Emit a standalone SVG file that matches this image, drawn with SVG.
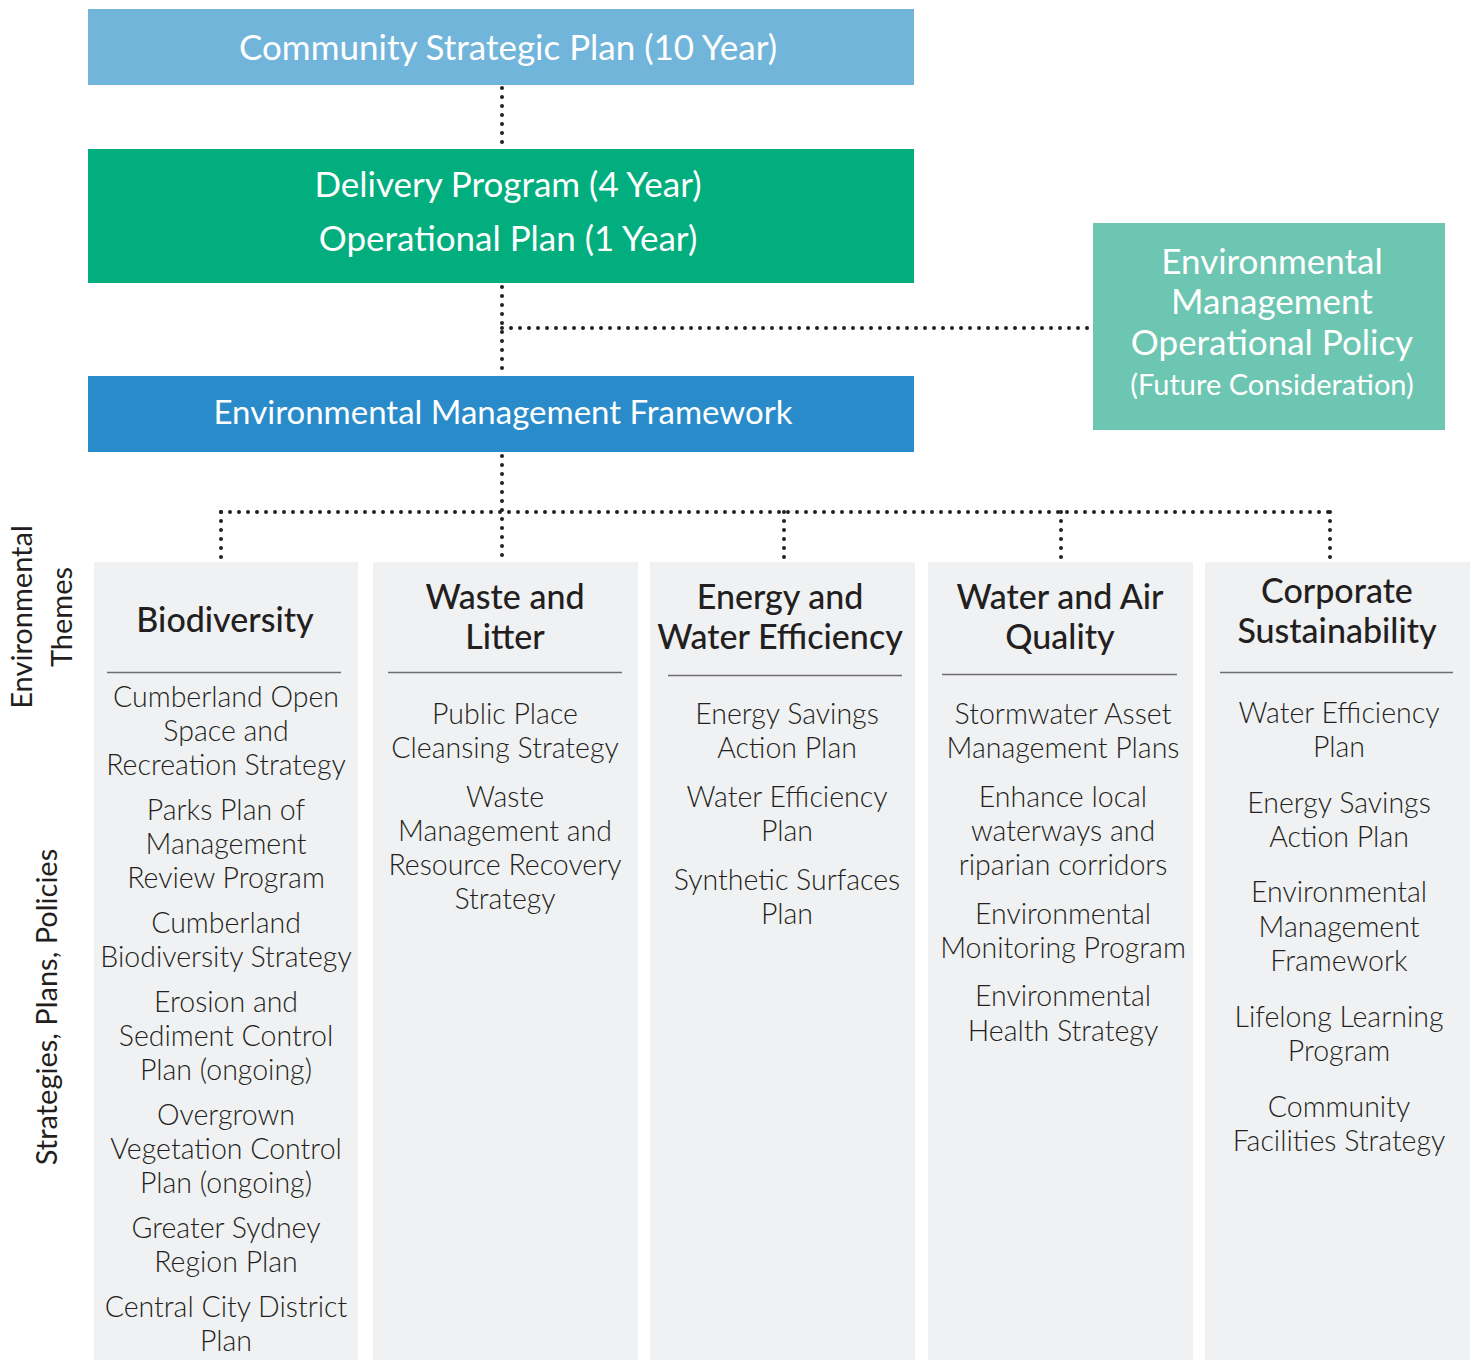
<svg xmlns="http://www.w3.org/2000/svg" width="1477" height="1360" viewBox="0 0 1477 1360">
<style>
text{font-family:"Lato","Noto Sans","Liberation Sans",sans-serif;}
.bt{fill:#ffffff;font-size:35px;text-anchor:middle;}
.hd{fill:#231f20;font-size:34px;font-weight:500;text-anchor:middle;}
.it{fill:#231f20;font-size:28.5px;font-weight:300;text-anchor:middle;}
.side{fill:#231f20;font-size:29px;text-anchor:middle;}
.col{fill:#f0f1f3;}
.div{stroke:#6d6e71;stroke-width:1.5;}
.dot{fill:none;stroke:#231f20;stroke-width:4;stroke-linecap:round;stroke-dasharray:0 9;}
</style>
<rect width="1477" height="1360" fill="#ffffff"/>
<g id="connectors">
<path class="dot" d="M502 88 V149"/>
<path class="dot" d="M502 287 V376"/>
<path class="dot" d="M502 328 H1091"/>
<path class="dot" d="M502 456 V560"/>
<path class="dot" d="M221 512 H1330"/>
<path class="dot" d="M221 512 V560"/>
<path class="dot" d="M784 512 V560"/>
<path class="dot" d="M1061 512 V560"/>
<path class="dot" d="M1330 512 V560"/>
</g>
<g id="csp">
<rect x="88" y="9" width="826" height="76" fill="#72b5db"/>
<text class="bt" x="508" y="60">Community Strategic Plan (10 Year)</text>
</g>
<g id="dp">
<rect x="88" y="149" width="826" height="134" fill="#02ae7e"/>
<text class="bt" x="508" y="197">Delivery Program (4 Year)</text>
<text class="bt" x="508" y="251">Operational Plan (1 Year)</text>
</g>
<g id="emf">
<rect x="88" y="376" width="826" height="76" fill="#2a8bca"/>
<text class="bt" x="503" y="424" style="font-size:33px">Environmental Management Framework</text>
</g>
<g id="emop">
<rect x="1093" y="223" width="352" height="207" fill="#6dc6b2"/>
<text class="bt" x="1272" y="274">Environmental</text>
<text class="bt" x="1272" y="314">Management</text>
<text class="bt" x="1272" y="355">Operational Policy</text>
<text class="bt" x="1272" y="395" style="font-size:29px">(Future Consideration)</text>
</g>
<g id="side-labels">
<text class="side" transform="translate(32 617) rotate(-90)">Environmental</text>
<text class="side" transform="translate(72 617) rotate(-90)">Themes</text>
<text class="side" transform="translate(57 1007) rotate(-90)">Strategies, Plans, Policies</text>
</g>
<g id="biodiversity">
<rect class="col" x="94" y="562" width="264" height="798"/>
<text class="hd" x="225" y="632">Biodiversity</text>
<line class="div" x1="107" y1="672.5" x2="341" y2="672.5"/>
<text class="it" x="226" y="707">Cumberland Open</text>
<text class="it" x="226" y="741">Space and</text>
<text class="it" x="226" y="775">Recreation Strategy</text>
<text class="it" x="226" y="820">Parks Plan of</text>
<text class="it" x="226" y="854">Management</text>
<text class="it" x="226" y="888">Review Program</text>
<text class="it" x="226" y="933">Cumberland</text>
<text class="it" x="226" y="967">Biodiversity Strategy</text>
<text class="it" x="226" y="1012">Erosion and</text>
<text class="it" x="226" y="1046">Sediment Control</text>
<text class="it" x="226" y="1080">Plan (ongoing)</text>
<text class="it" x="226" y="1125">Overgrown</text>
<text class="it" x="226" y="1159">Vegetation Control</text>
<text class="it" x="226" y="1193">Plan (ongoing)</text>
<text class="it" x="226" y="1238">Greater Sydney</text>
<text class="it" x="226" y="1272">Region Plan</text>
<text class="it" x="226" y="1317">Central City District</text>
<text class="it" x="226" y="1351">Plan</text>
</g>
<g id="waste">
<rect class="col" x="373" y="562" width="265" height="798"/>
<text class="hd" x="505" y="609">Waste and</text>
<text class="hd" x="505" y="649">Litter</text>
<line class="div" x1="388" y1="672.5" x2="622" y2="672.5"/>
<text class="it" x="505" y="724">Public Place</text>
<text class="it" x="505" y="758">Cleansing Strategy</text>
<text class="it" x="505" y="807">Waste</text>
<text class="it" x="505" y="841">Management and</text>
<text class="it" x="505" y="875">Resource Recovery</text>
<text class="it" x="505" y="909">Strategy</text>
</g>
<g id="energy">
<rect class="col" x="650" y="562" width="265" height="798"/>
<text class="hd" x="780" y="609">Energy and</text>
<text class="hd" x="780" y="649">Water Efficiency</text>
<line class="div" x1="668" y1="675.5" x2="902" y2="675.5"/>
<text class="it" x="787" y="724">Energy Savings</text>
<text class="it" x="787" y="758">Action Plan</text>
<text class="it" x="787" y="807">Water Efficiency</text>
<text class="it" x="787" y="841">Plan</text>
<text class="it" x="787" y="890">Synthetic Surfaces</text>
<text class="it" x="787" y="924">Plan</text>
</g>
<g id="water-air">
<rect class="col" x="928" y="562" width="265" height="798"/>
<text class="hd" x="1060" y="609">Water and Air</text>
<text class="hd" x="1060" y="649">Quality</text>
<line class="div" x1="942" y1="674.5" x2="1177" y2="674.5"/>
<text class="it" x="1063" y="724">Stormwater Asset</text>
<text class="it" x="1063" y="758">Management Plans</text>
<text class="it" x="1063" y="807">Enhance local</text>
<text class="it" x="1063" y="841">waterways and</text>
<text class="it" x="1063" y="875">riparian corridors</text>
<text class="it" x="1063" y="924">Environmental</text>
<text class="it" x="1063" y="958">Monitoring Program</text>
<text class="it" x="1063" y="1006">Environmental</text>
<text class="it" x="1063" y="1041">Health Strategy</text>
</g>
<g id="corporate">
<rect class="col" x="1205" y="562" width="265" height="798"/>
<text class="hd" x="1337" y="603">Corporate</text>
<text class="hd" x="1337" y="643">Sustainability</text>
<line class="div" x1="1220" y1="672.5" x2="1453" y2="672.5"/>
<text class="it" x="1339" y="723">Water Efficiency</text>
<text class="it" x="1339" y="757">Plan</text>
<text class="it" x="1339" y="813">Energy Savings</text>
<text class="it" x="1339" y="847">Action Plan</text>
<text class="it" x="1339" y="902">Environmental</text>
<text class="it" x="1339" y="937">Management</text>
<text class="it" x="1339" y="971">Framework</text>
<text class="it" x="1339" y="1027">Lifelong Learning</text>
<text class="it" x="1339" y="1061">Program</text>
<text class="it" x="1339" y="1117">Community</text>
<text class="it" x="1339" y="1151">Facilities Strategy</text>
</g>
</svg>
